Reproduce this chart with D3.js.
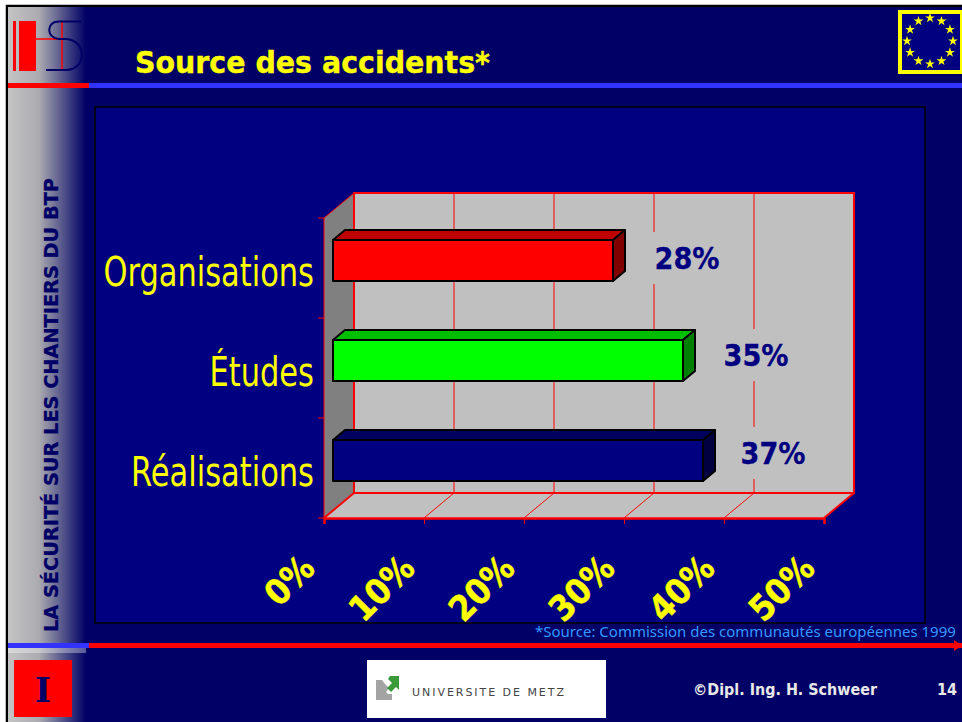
<!DOCTYPE html>
<html>
<head>
<meta charset="utf-8">
<script src="https://cdn.jsdelivr.net/npm/d3@7"></script>
<style>
  html, body { margin: 0; padding: 0; background: #fff; }
  svg { display: block; }
  text { font-family: "DejaVu Sans", sans-serif; }
</style>
</head>
<body>
<svg width="962" height="722"></svg>
<script>
var categories = ["Organisations", "Études", "Réalisations"];
var values = [28, 35, 37];
var xTicks = [0, 10, 20, 30, 40, 50];
var frontColors = ["#ff0000", "#00ff00", "#000080"];
var topColors = ["#bf0000", "#00bf00", "#000060"];
var sideColors = ["#800000", "#008000", "#000040"];

var svg = d3.select("svg");
var navy = "#000066", panel = "#000080", wall = "#c0c0c0", red = "#ff0000", yellow = "#ffff00";

var defs = svg.append("defs");
var grad = defs.append("linearGradient").attr("id", "side");
grad.append("stop").attr("offset", "0%").attr("stop-color", "#c4c4c4");
grad.append("stop").attr("offset", "40%").attr("stop-color", "#aaaab0");
grad.append("stop").attr("offset", "100%").attr("stop-color", navy);

// slide background
svg.append("rect").attr("x", 8).attr("y", 7).attr("width", 954).attr("height", 715).attr("fill", navy);
svg.append("path").attr("d", "M7,722V6H962").attr("fill", "none").attr("stroke", "#000").attr("stroke-width", 2.5);
svg.append("rect").attr("x", 8).attr("y", 7).attr("width", 78).attr("height", 715).attr("fill", "url(#side)");
svg.append("rect").attr("x", 8).attr("y", 648).attr("width", 78).attr("height", 5).attr("fill", "#fff").attr("opacity", 0.35);

// header / footer rules
svg.append("rect").attr("x", 8).attr("y", 83).attr("width", 81).attr("height", 5).attr("fill", red);
svg.append("rect").attr("x", 89).attr("y", 83).attr("width", 873).attr("height", 5).attr("fill", "#3333ff");
svg.append("rect").attr("x", 8).attr("y", 643).attr("width", 81).attr("height", 5).attr("fill", "#3333ff");
svg.append("rect").attr("x", 89).attr("y", 643).attr("width", 873).attr("height", 5).attr("fill", red);
svg.append("path").attr("d", "M954,640L962,645.5L954,651Z").attr("fill", red);

// HS logo
var logo = svg.append("g");
logo.append("rect").attr("x", 13).attr("y", 21).attr("width", 3).attr("height", 50).attr("fill", red);
logo.append("rect").attr("x", 19).attr("y", 21).attr("width", 17).attr("height", 50).attr("fill", red);
logo.append("path").attr("d", "M36,39H62M62,21V69").attr("stroke", red).attr("stroke-width", 1.5).attr("fill", "none");
logo.append("path")
    .attr("d", "M81,21.5H59C46,21.5 46,38 59,39H66C87,40 87,70 66,70H46")
    .attr("stroke", navy).attr("stroke-width", 2).attr("fill", "none");

svg.append("text").attr("x", 135).attr("y", 73)
    .attr("font-size", 31).attr("font-weight", "bold").attr("fill", yellow)
    .attr("stroke", yellow).attr("stroke-width", 0.4)
    .attr("textLength", 355).attr("lengthAdjust", "spacingAndGlyphs")
    .text("Source des accidents*");

// EU flag
var flag = svg.append("g").attr("transform", "translate(930,41)");
flag.append("rect").attr("x", -30).attr("y", -29).attr("width", 62).attr("height", 60)
    .attr("fill", panel).attr("stroke", yellow).attr("stroke-width", 4);
flag.selectAll("path").data(d3.range(12)).enter().append("path")
    .attr("d", d3.symbol().type(d3.symbolStar).size(30))
    .attr("fill", yellow)
    .attr("transform", function(d) {
        var a = d * Math.PI / 6;
        return "translate(" + (23 * Math.sin(a)) + "," + (-23 * Math.cos(a)) + ")";
    });

// side title
svg.append("text").attr("transform", "translate(58,632) rotate(-90)")
    .attr("font-size", 20).attr("font-weight", "bold").attr("fill", navy)
    .attr("stroke", navy).attr("stroke-width", 0.3)
    .attr("textLength", 454).attr("lengthAdjust", "spacingAndGlyphs")
    .text("LA SÉCURITÉ SUR LES CHANTIERS DU BTP");

// chart panel
svg.append("rect").attr("x", 95).attr("y", 107).attr("width", 830).attr("height", 516)
    .attr("fill", panel).attr("stroke", "#000").attr("stroke-width", 1.5);

var margin = { left: 324, top: 218 };
var width = 500, height = 300;
var depthX = 30, depthY = 25;
var barDepthX = 12, barDepthY = 10;
var barInset = 9;

var x = d3.scaleLinear().domain([0, 50]).range([0, width]);
var y = d3.scaleBand().domain(categories).range([0, height]);

var g = svg.append("g").attr("transform", "translate(" + margin.left + "," + margin.top + ")");

// 3d box: left wall, floor, back wall
g.append("path").attr("fill", "#808080")
    .attr("d", "M0,0L" + depthX + "," + (-depthY) + "V" + (height - depthY) + "L0," + height + "Z");
g.append("path").attr("fill", wall)
    .attr("d", "M0," + height + "L" + depthX + "," + (height - depthY) + "H" + (width + depthX) + "L" + width + "," + height + "Z");
g.append("rect").attr("x", depthX).attr("y", -depthY).attr("width", width).attr("height", height)
    .attr("fill", wall);

// gridlines
var grid = g.append("g").attr("stroke", red).attr("stroke-width", 1).attr("fill", "none");
grid.selectAll("path").data(xTicks.slice(1, -1)).enter().append("path")
    .attr("d", function(d) {
        return "M" + x(d) + "," + height + "L" + (x(d) + depthX) + "," + (height - depthY) + "V" + (-depthY);
    });

// box edges
g.append("path").attr("fill", "none").attr("stroke", red).attr("stroke-width", 2)
    .attr("d", "M" + depthX + "," + (height - depthY) + "V" + (-depthY) + "H" + (width + depthX) + "V" + (height - depthY) + "Z"
        + "M0," + height + "L" + depthX + "," + (height - depthY)
        + "M" + width + "," + height + "L" + (width + depthX) + "," + (height - depthY));
g.append("path").attr("fill", "none").attr("stroke", red).attr("stroke-width", 1)
    .attr("d", "M0," + height + "V0L" + depthX + "," + (-depthY));

// axes
var xAxis = d3.axisBottom(x).tickValues(xTicks).tickSize(6).tickFormat(function(d) { return d + "%"; });
var xG = g.append("g").attr("transform", "translate(0," + height + ")").call(xAxis);
xG.select(".domain").attr("stroke", red).attr("stroke-width", 2.5);
xG.selectAll(".tick line").attr("stroke", red);
xG.selectAll(".tick text")
    .attr("font-size", 35).attr("font-weight", "bold").attr("fill", yellow)
    .attr("stroke", yellow).attr("stroke-width", 0.5)
    .attr("font-family", "DejaVu Sans")
    .attr("text-anchor", "end")
    .attr("dy", null)
    .attr("transform", "translate(-17,43) rotate(-45) scale(0.9,1)")
    .attr("x", 0).attr("y", 13);

var yAxis = d3.axisLeft(y).tickSize(0).tickPadding(10);
var yG = g.append("g").call(yAxis);
yG.select(".domain").remove();
yG.selectAll(".tick text")
    .attr("font-size", 40).attr("fill", yellow)
    .attr("font-family", "DejaVu Sans")
    .attr("x", 0)
    .attr("transform", "translate(-10,5) scale(0.762,1)");
g.append("g").selectAll("line").data(d3.range(categories.length + 1)).enter().append("line")
    .attr("x1", -6).attr("x2", 0)
    .attr("y1", function(d) { return d * y.step(); })
    .attr("y2", function(d) { return d * y.step(); })
    .attr("stroke", red);

// bars
var barTop = 22, barH = 41;
var bars = g.selectAll(".bar").data(values).enter().append("g")
    .attr("class", "bar")
    .attr("transform", function(d, i) { return "translate(" + barInset + "," + (y(categories[i]) + barTop) + ")"; })
    .attr("stroke", "#000").attr("stroke-width", 2).attr("stroke-linejoin", "round");
bars.append("path").attr("fill", function(d, i) { return topColors[i]; })
    .attr("d", function(d) {
        return "M0,0L" + barDepthX + "," + (-barDepthY) + "H" + (x(d) + barDepthX) + "L" + x(d) + ",0Z";
    });
bars.append("path").attr("fill", function(d, i) { return sideColors[i]; })
    .attr("d", function(d) {
        return "M" + x(d) + ",0L" + (x(d) + barDepthX) + "," + (-barDepthY) + "V" + (barH - barDepthY) + "L" + x(d) + "," + barH + "Z";
    });
bars.append("rect").attr("fill", function(d, i) { return frontColors[i]; })
    .attr("width", function(d) { return x(d); }).attr("height", barH);

// value labels, with the wall colour behind them hiding the gridlines
var labelDx = [74, 73, 70];
var labelDy = [40, 37, 35];
var labels = g.selectAll(".value").data(values).enter().append("g")
    .attr("class", "value")
    .attr("transform", function(d, i) {
        return "translate(" + (x(d) + barInset + labelDx[i]) + "," + (y(categories[i]) + labelDy[i]) + ")";
    });
labels.append("rect").attr("x", -36).attr("y", -26).attr("width", 72).attr("height", 52).attr("fill", wall);
labels.append("text")
    .attr("text-anchor", "middle").attr("dy", "0.36em")
    .attr("font-size", 30).attr("font-weight", "bold").attr("fill", panel)
    .attr("stroke", panel).attr("stroke-width", 0.3)
    .attr("textLength", 65).attr("lengthAdjust", "spacingAndGlyphs")
    .text(function(d) { return d + "%"; });

// source
svg.append("text").attr("x", 535).attr("y", 636.5)
    .style("font-family", "'Noto Sans'")
    .attr("font-size", 15).attr("fill", "#3399ff")
    .text("*Source: Commission des communautés européennes 1999");

// footer
svg.append("rect").attr("x", 14).attr("y", 660).attr("width", 58).attr("height", 57).attr("fill", red);
svg.append("text").attr("x", 43).attr("y", 702).attr("text-anchor", "middle")
    .attr("font-size", 34).attr("font-weight", "bold").attr("fill", navy)
    .style("font-family", "'DejaVu Serif'")
    .text("I");

svg.append("rect").attr("x", 367).attr("y", 660).attr("width", 239).attr("height", 58).attr("fill", "#fff");
svg.append("path").attr("d", "M376,680H382L385,684L389,688L386,692L388,694H392V700H376Z").attr("fill", "#a3a3a3");
svg.append("path").attr("d", "M390,676H399V690L396,687L391,692L387,688L392,683L388,679Z").attr("fill", "#3a9a3a");
svg.append("text").attr("x", 412).attr("y", 696)
    .attr("font-size", 11).attr("fill", "#444")
    .attr("textLength", 152).attr("lengthAdjust", "spacing")
    .text("UNIVERSITE DE METZ");

svg.append("text").attr("x", 693).attr("y", 695)
    .attr("font-size", 16).attr("font-weight", "bold").attr("fill", "#e8e8e8")
    .attr("textLength", 184).attr("lengthAdjust", "spacingAndGlyphs")
    .text("©Dipl. Ing. H. Schweer");
svg.append("text").attr("x", 937).attr("y", 695)
    .attr("font-size", 16).attr("font-weight", "bold").attr("fill", "#e8e8e8")
    .attr("textLength", 20).attr("lengthAdjust", "spacingAndGlyphs")
    .text("14");
</script>
</body>
</html>
